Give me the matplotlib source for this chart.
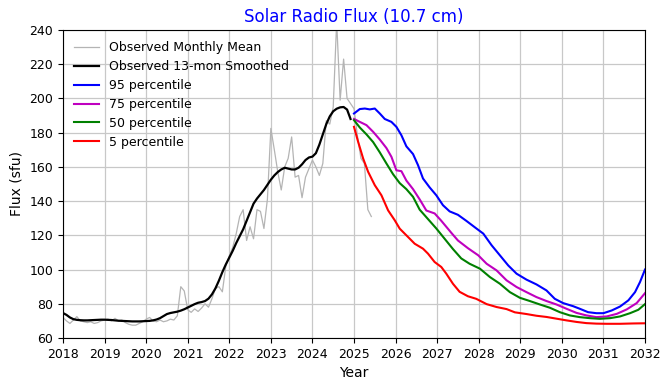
import numpy as np
import matplotlib
matplotlib.use("Agg")
import matplotlib.pyplot as plt

# observed monthly mean F10.7, Jan 2018 .. Jun 2025
obs_start = 2018.0
obs_monthly = [
    72.0, 70.0, 68.5, 70.5, 72.5, 70.0, 69.5, 69.0, 69.5, 68.5, 69.0, 70.0,
    70.5, 71.0, 70.0, 71.5, 70.0, 70.5, 69.0, 68.0, 67.5, 67.5, 68.5, 69.5,
    71.0, 72.0, 70.0, 69.5, 70.5, 69.5, 70.0, 71.0, 70.5, 73.0, 90.0, 87.5,
    76.5, 75.0, 77.0, 75.5, 77.5, 80.0, 78.0, 83.0, 89.0, 90.0, 87.0, 102.0,
    108.0, 113.0, 121.0, 131.0, 135.0, 117.0, 125.0, 118.0, 135.0, 134.0, 124.0, 141.0,
    182.5, 170.0, 157.0, 146.5, 160.0, 165.0, 177.5, 154.0, 155.0, 142.0, 154.0, 159.0,
    164.0, 160.0, 155.0, 162.0, 187.0, 185.0, 195.0, 245.0, 199.0, 223.0, 200.0, 197.0,
    194.0, 178.0, 165.0, 162.0, 135.0, 131.0,
]

# observed 13-month smoothed, Jan 2018 .. Dec 2024
smoothed = [
    74.6, 73.5, 72.0, 71.0, 70.6, 70.4, 70.3, 70.3, 70.4, 70.5, 70.6, 70.7,
    70.7, 70.6, 70.5, 70.3, 70.1, 70.0, 69.9, 69.8, 69.7, 69.7, 69.7, 69.8,
    69.9, 70.0, 70.3, 70.8, 71.6, 72.8, 74.0, 74.6, 75.0, 75.4, 76.0, 76.8,
    77.8, 78.8, 79.8, 80.6, 81.0, 81.6, 83.0, 85.5, 89.0, 93.5, 98.5, 103.0,
    107.0, 111.0, 115.5, 119.5, 123.5, 128.5, 133.5, 138.5, 141.5, 144.0, 146.5, 149.5,
    152.5, 155.0, 157.0, 158.5, 159.5, 159.0, 158.5, 158.5, 159.5, 161.5, 164.0, 165.5,
    166.0, 168.0, 173.0, 179.0, 185.0, 189.5, 192.5, 194.0, 194.8, 195.0, 193.5, 188.0,
]

# forecast percentiles (year, value)
p95_year = [2025.0, 2025.14, 2025.26, 2025.38, 2025.5, 2025.62, 2025.74, 2025.9, 2026.02,
            2026.14, 2026.26, 2026.42, 2026.54, 2026.66, 2026.82, 2026.98, 2027.14, 2027.3,
            2027.5, 2027.7, 2027.95, 2028.11, 2028.31, 2028.51, 2028.71, 2028.91, 2029.15,
            2029.39, 2029.63, 2029.83, 2030.03, 2030.27, 2030.43, 2030.63, 2030.83, 2031.0,
            2031.2, 2031.4, 2031.6, 2031.76, 2031.88, 2032.0]
p95 = [191.2, 193.8, 194.1, 193.6, 194.1, 191.2, 188.0, 186.3, 183.4,
       178.5, 172.0, 167.5, 161.0, 153.2, 148.0, 143.4, 137.6, 134.0,
       132.0, 128.5, 123.9, 121.0, 114.2, 108.3, 102.4, 97.6, 94.1,
       91.3, 87.8, 82.9, 80.4, 78.6, 77.1, 75.1, 74.5, 74.5,
       76.1, 78.4, 82.0, 86.8, 92.7, 100.0]

p75_year = [2025.0, 2025.14, 2025.3, 2025.46, 2025.62, 2025.78, 2025.9, 2026.02, 2026.14,
            2026.26, 2026.42, 2026.58, 2026.74, 2026.94, 2027.1, 2027.34, 2027.5, 2027.74,
            2027.99, 2028.19, 2028.43, 2028.67, 2028.91, 2029.15, 2029.39, 2029.63, 2029.87,
            2030.11, 2030.35, 2030.59, 2030.83, 2031.08, 2031.32, 2031.56, 2031.8, 2032.0]
p75 = [188.0, 186.3, 184.4, 180.5, 176.0, 171.0, 165.9, 158.0, 157.5,
       152.0, 147.0, 141.0, 134.5, 132.8, 128.5, 121.5, 117.0, 112.5,
       108.3, 103.4, 99.5, 93.7, 89.8, 86.8, 83.9, 81.6, 79.6,
       77.1, 74.7, 73.2, 72.2, 72.6, 74.1, 76.7, 80.4, 86.2]

p50_year = [2025.0, 2025.14, 2025.3, 2025.46, 2025.62, 2025.78, 2025.94, 2026.1, 2026.26,
            2026.42, 2026.58, 2026.78, 2026.98, 2027.18, 2027.38, 2027.58, 2027.78, 2028.03,
            2028.27, 2028.51, 2028.75, 2028.99, 2029.23, 2029.47, 2029.71, 2029.95, 2030.19,
            2030.43, 2030.67, 2030.91, 2031.16, 2031.4, 2031.64, 2031.84, 2032.0]
p50 = [187.3, 183.0, 179.0, 174.5, 168.5, 162.0, 155.7, 150.5, 147.0,
       142.5, 135.0, 129.5, 124.0, 118.0, 112.0, 106.5, 103.4, 100.5,
       95.6, 91.7, 86.8, 83.5, 81.6, 79.6, 77.7, 75.1, 73.2,
       72.2, 71.6, 71.2, 71.6, 72.6, 74.5, 76.5, 79.8]

p5_year = [2025.0, 2025.1, 2025.22, 2025.34, 2025.5, 2025.66, 2025.82, 2025.98, 2026.1,
           2026.26, 2026.46, 2026.66, 2026.78, 2026.94, 2027.1, 2027.22, 2027.38, 2027.54,
           2027.74, 2027.94, 2028.19, 2028.43, 2028.67, 2028.87, 2029.15, 2029.39, 2029.63,
           2029.87, 2030.11, 2030.35, 2030.59, 2030.83, 2031.08, 2031.4, 2031.72, 2032.0]
p5 = [183.4, 174.6, 164.9, 157.1, 149.3, 143.4, 134.6, 128.8, 123.9,
      120.0, 115.1, 112.2, 109.3, 104.4, 101.5, 97.6, 91.7, 87.0,
      84.4, 82.9, 79.8, 78.1, 76.9, 75.0, 74.0, 73.0, 72.3,
      71.3, 70.3, 69.4, 68.7, 68.4, 68.3, 68.3, 68.5, 68.6]

obs_year = obs_start + np.arange(len(obs_monthly)) / 12.0
smo_year = obs_start + np.arange(len(smoothed)) / 12.0

fig = plt.figure(figsize=(6.7, 3.9), dpi=100)
ax = fig.add_axes([63 / 670, 1 - 338 / 390, (645 - 63) / 670, (338 - 30) / 390])

ax.plot(obs_year, obs_monthly, color="#b4b4b4", lw=0.9, label="Observed Monthly Mean")
ax.plot(smo_year, smoothed, color="black", lw=1.6, label="Observed 13-mon Smoothed")
ax.plot(p95_year, p95, color="blue", lw=1.5, label="95 percentile")
ax.plot(p75_year, p75, color="m", lw=1.5, label="75 percentile")
ax.plot(p50_year, p50, color="green", lw=1.5, label="50 percentile")
ax.plot(p5_year, p5, color="red", lw=1.5, label="5 percentile")

ax.set_xlim(2018, 2032)
ax.set_ylim(60, 240)
ax.set_xticks(np.arange(2018, 2033, 1))
ax.set_yticks(np.arange(60, 241, 20))
ax.tick_params(labelsize=9)
ax.grid(True, color="#c8c8c8", lw=0.9)
ax.set_axisbelow(True)

ax.set_title("Solar Radio Flux (10.7 cm)", color="blue", fontsize=12)
ax.set_xlabel("Year", fontsize=10)
ax.set_ylabel("Flux (sfu)", fontsize=10)
ax.legend(loc="upper left", fontsize=9, frameon=False, labelspacing=0.47)

fig.savefig("out.png", dpi=100)
